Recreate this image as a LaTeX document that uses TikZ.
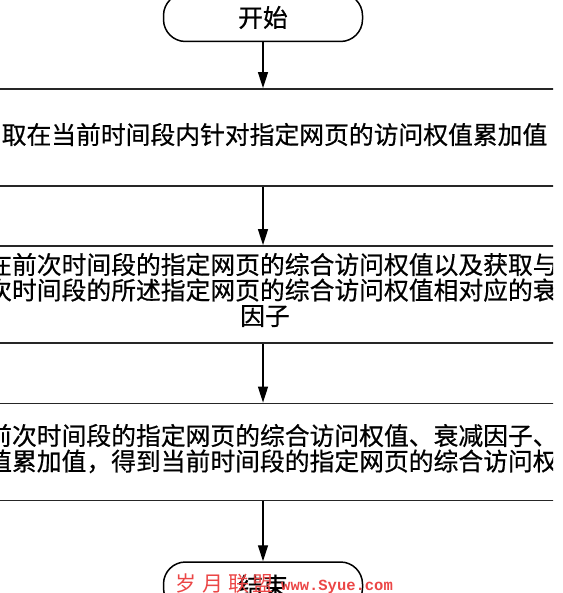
\documentclass[tikz,border=0pt]{standalone}
\usepackage{fontspec}
\usepackage{graphicx}
\newfontfamily\cjk[FakeBold=0.6]{Noto Sans CJK SC}
\newfontfamily\wmcjk{Noto Sans CJK SC}
\newfontfamily\wmlatin{Liberation Mono}
\usetikzlibrary{arrows.meta}
\tikzset{
  term/.style={draw=black, line width=1.5pt, rounded corners=22pt, minimum width=199pt, minimum height=48pt, inner sep=0pt, font=\cjk\fontsize{24.8}{25}\selectfont},
  procbox/.style={draw=black!85, line width=1.8pt, minimum width=660pt, minimum height=97pt, inner sep=0pt},
  txt/.style={anchor=base west, inner sep=0pt, font=\cjk\fontsize{24.8}{25}\selectfont},
  flow/.style={line width=1.3pt, -{Triangle[width=10pt,length=16pt]}},
  wm/.style={anchor=base west, inner sep=0pt, text={rgb,255:red,235;green,70;blue,70}}
}
\begin{document}
\begin{tikzpicture}[x=1pt,y=-1pt]
\useasboundingbox (0,0) rectangle (562,593);
\node[term] (start) at (263,17.5) {开始};
\begin{scope}
\clip (-20,-20) rectangle (553,620);
\node[procbox] (b1) at (263,137.5) {};
\node[procbox] (b2) at (263,294.5) {};
\node[procbox] (b3) at (263,452) {};
\node[txt] (t1) at (1.5,144) {取在当前时间段内针对指定网页的访问权值累加值};
\node[txt] (t2a) at (-13,274) {在前次时间段的指定网页的综合访问权值以及获取与};
\node[txt] (t2b) at (-13,299.5) {次时间段的所述指定网页的综合访问权值相对应的衰};
\node[txt] (t2c) at (240,325) {因子};
\node[txt] (t3a) at (-13,445) {前次时间段的指定网页的综合访问权值、衰减因子、};
\node[txt] (t3b) at (-13,470.5) {值累加值，得到当前时间段的指定网页的综合访问权};
\end{scope}
\node[term] (end) at (263,586) {结束};
\draw[flow] (start) -- (b1);
\draw[flow] (b1) -- (b2);
\draw[flow] (b2) -- (b3);
\draw[flow] (b3) -- (end);
\node[wm, font=\wmcjk\fontsize{21}{21}\selectfont] (wm1) at (175,591) {岁\hspace{6pt}月\hspace{5pt}联\hspace{3pt}盟};
\node[wm, font=\wmlatin\bfseries\fontsize{15.5}{16}\selectfont] (wm2) at (281,590) {www.Syue.com};
\end{tikzpicture}
\end{document}
